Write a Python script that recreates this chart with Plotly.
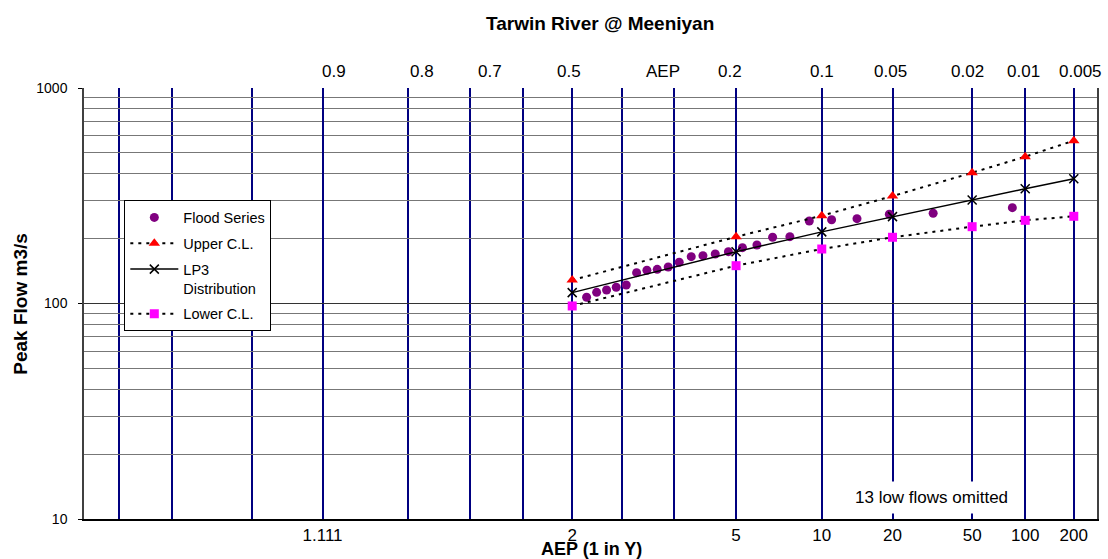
import plotly.graph_objects as go
from statistics import NormalDist

# ---------------- data ----------------
flood_aep = [0.4705, 0.4501, 0.4299, 0.4106, 0.3907, 0.3704, 0.3506, 0.3312,
             0.3110, 0.2913, 0.2705, 0.2510, 0.2313, 0.2112, 0.1910, 0.1714,
             0.1517, 0.1318, 0.1117, 0.0914, 0.0718, 0.0517, 0.0319, 0.0119]
flood_q = [106.9, 112.7, 115.5, 118.9, 121.8, 139.0, 142.6, 144.1,
           147.7, 155.3, 164.9, 166.7, 169.7, 174.0, 181.6, 186.9,
           202.9, 204.2, 241.5, 244.8, 247.5, 259.4, 262.2, 278.4]

dist_aep = [0.5, 0.2, 0.1, 0.05, 0.02, 0.01, 0.005]
lp3_q = [112.3, 174.0, 215.0, 253.0, 302.0, 341.0, 379.6]
upper_q = [128.5, 204.0, 255.5, 315.0, 404.5, 480.0, 569.6]
lower_q = [97.4, 149.8, 179.0, 202.9, 227.2, 243.2, 253.9]

# bottom axis (ARI, 1 in Y) labels
ari_ticks = [1.111, 2, 5, 10, 20, 50, 100, 200]
ari_labels = ["1.111", "2", "5", "10", "20", "50", "100", "200"]
# extra vertical grid lines (AEP)
grid_aep_extra = [0.99, 0.98, 0.95, 0.8, 0.7, 0.6, 0.4, 0.3]
# top AEP labels
top_aep = [0.9, 0.8, 0.7, 0.5, 0.2, 0.1, 0.05, 0.02, 0.01, 0.005]
top_labels = ["0.9", "0.8", "0.7", "0.5", "0.2", "0.1", "0.05", "0.02", "0.01", "0.005"]

y_major = [10, 100, 1000]
y_minor = [20, 30, 40, 50, 60, 70, 80, 90, 200, 300, 400, 500, 600, 700, 800, 900]

# ---------------- probability scale ----------------
ND = NormalDist()


def zq(aep):
    return ND.inv_cdf(1.0 - aep)


FONT = "Liberation Sans, Arial, sans-serif"
NAVY = "#000080"

fig = go.Figure()

fig.add_trace(go.Scatter(
    x=[zq(a) for a in flood_aep], y=flood_q, mode="markers", name="Flood Series",
    legendgroup="a",
    marker=dict(symbol="circle", size=9, color="#800080")))

fig.add_trace(go.Scatter(
    x=[zq(a) for a in dist_aep], y=upper_q, mode="lines+markers", name="Upper C.L.",
    legendgroup="b",
    line=dict(color="black", width=2, dash="3px,5px"),
    marker=dict(symbol="triangle-up", size=10, color="#FF0000")))

fig.add_trace(go.Scatter(
    x=[zq(a) for a in dist_aep], y=lp3_q, mode="lines+markers", name="LP3<br>Distribution",
    legendgroup="c",
    line=dict(color="black", width=1.5),
    marker=dict(symbol="x-thin", size=9, color="black",
                line=dict(color="black", width=1.5))))

fig.add_trace(go.Scatter(
    x=[zq(a) for a in dist_aep], y=lower_q, mode="lines+markers", name="Lower C.L.",
    legendgroup="d",
    line=dict(color="black", width=2, dash="3px,5px"),
    marker=dict(symbol="square", size=9, color="#FF00FF")))

# top AEP labels (small offsets as in the reference layout)
top_shift = [11, 14, 20, -3, -6, 0, -2, -5, -2, 7]
annotations = []
for a, t, s in zip(top_aep, top_labels, top_shift):
    annotations.append(dict(x=zq(a), y=1.0378, xref="x", yref="paper", text=t,
                            showarrow=False, xshift=s, xanchor="center", yanchor="middle",
                            font=dict(family=FONT, size=17, color="black")))
annotations.append(dict(x=0.466, y=1.0378, xref="x", yref="paper", text="AEP",
                        showarrow=False, xanchor="center", yanchor="middle",
                        font=dict(family=FONT, size=17, color="black")))
annotations.append(dict(x=0.5094, y=1.1508, xref="paper", yref="paper",
                        text="<b>Tarwin River @ Meeniyan</b>", showarrow=False,
                        xanchor="center", yanchor="middle",
                        font=dict(family=FONT, size=19, color="black")))
annotations.append(dict(x=0.5005, y=-0.0695, xref="paper", yref="paper",
                        text="<b>AEP (1 in Y)</b>", showarrow=False,
                        xanchor="center", yanchor="middle",
                        font=dict(family=FONT, size=18, color="black")))
annotations.append(dict(x=-0.0622, y=0.4995, xref="paper", yref="paper",
                        text="<b>Peak Flow m3/s</b>", showarrow=False, textangle=-90,
                        xanchor="center", yanchor="middle",
                        font=dict(family=FONT, size=19, color="black")))
annotations.append(dict(x=0.837, y=0.051, xref="paper", yref="paper",
                        text="13 low flows omitted", showarrow=False,
                        xanchor="center", yanchor="middle",
                        bgcolor="white", borderpad=6,
                        font=dict(family=FONT, size=17, color="black")))

fig.update_layout(
    width=1108, height=559,
    margin=dict(l=84, r=11, t=88, b=40),
    paper_bgcolor="white", plot_bgcolor="white",
    font=dict(family=FONT, color="black"),
    showlegend=True,
    legend=dict(x=0.0398, y=0.739, xanchor="left", yanchor="top",
                bgcolor="white", bordercolor="black", borderwidth=1,
                font=dict(family=FONT, size=14.5, color="black"),
                traceorder="grouped", tracegroupgap=4, valign="top",
                itemwidth=48),
    annotations=annotations,
    xaxis=dict(
        range=[-2.507, 2.695], zeroline=False,
        tickmode="array", tickvals=[zq(1.0 / r) for r in ari_ticks], ticktext=ari_labels,
        ticks="", showgrid=True, gridcolor=NAVY, gridwidth=1.5,
        tickfont=dict(family=FONT, size=17, color="black"),
        showline=True, linecolor="black", linewidth=1.5, mirror=False,
        minor=dict(tickmode="array", tickvals=[zq(a) for a in grid_aep_extra],
                   ticks="", showgrid=True, gridcolor=NAVY, gridwidth=1.5),
        automargin=False,
    ),
    yaxis=dict(
        type="log", range=[1, 3],
        tickmode="array", tickvals=y_major, ticktext=[str(v) for v in y_major],
        ticks="outside", ticklen=4, tickcolor="black", tickwidth=1,
        ticklabelstandoff=8,
        showgrid=True, gridcolor="#333333", gridwidth=1,
        tickfont=dict(family=FONT, size=14, color="black"),
        showline=True, linecolor="#404040", linewidth=1.5, mirror=True,
        minor=dict(tickmode="array", tickvals=y_minor, ticks="",
                   showgrid=True, gridcolor="#777777", gridwidth=1),
        automargin=False,
    ),
)

fig.write_html("out.html")
